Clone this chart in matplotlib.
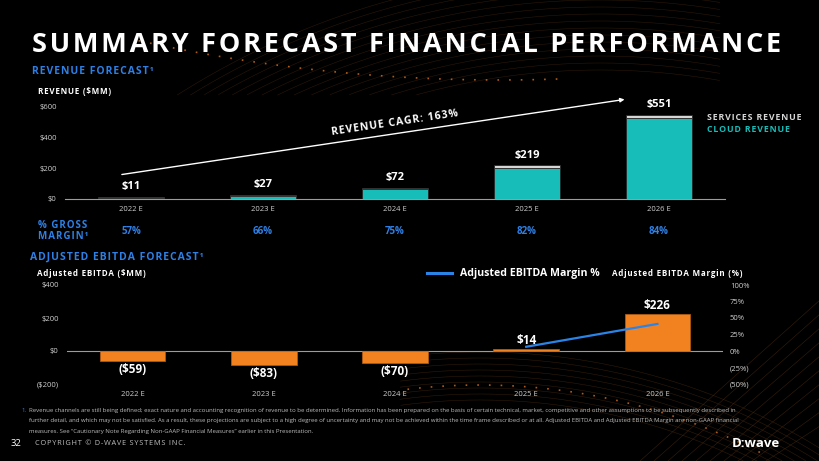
import numpy as np
import matplotlib
matplotlib.use("Agg")
import matplotlib.pyplot as plt
from matplotlib.lines import Line2D

plt.rcParams["font.family"] = ["Open Sans", "DejaVu Sans"]

# data
years = ["2022 E", "2023 E", "2024 E", "2025 E", "2026 E"]
cloud_revenue = [7, 21, 65, 201, 525]
services_revenue = [4, 6, 7, 18, 26]
revenue_labels = ["$11", "$27", "$72", "$219", "$551"]
gross_margin = ["57%", "66%", "75%", "82%", "84%"]
revenue_cagr = "163%"

ebitda = [-59, -83, -70, 14, 226]
ebitda_labels = ["($59)", "($83)", "($70)", "$14", "$226"]
margin_years = [3, 4]
ebitda_margin = [6.4, 41.0]

rev_ticks = [0, 200, 400, 600]
rev_tick_labels = ["$0", "$200", "$400", "$600"]
ebitda_ticks = [-200, 0, 200, 400]
ebitda_tick_labels = ["($200)", "$0", "$200", "$400"]
margin_ticks = [-50, -25, 0, 25, 50, 75, 100]
margin_tick_labels = ["(50%)", "(25%)", "0%", "25%", "50%", "75%", "100%"]

W, H = 820, 461
TEAL = "#17bdb9"
LIGHT = "#d6d6d6"
ORANGE = "#f28120"
BLUE = "#2f80e6"
LINE_BLUE = "#2a84e8"
AXIS = "#9c9c9c"
TICK = "#cfcfcf"


def spaced(s):
    # poor man's letter spacing
    return "\u200a".join(s)


def label(fig, x, y, s, **kw):
    fig.text(x / W, 1 - y / H, s, **kw)


fig = plt.figure(figsize=(W / 100, H / 100), dpi=100, facecolor="black")

# faint background swirl
bg = fig.add_axes([0, 0, 1, 1], zorder=-5)
bg.set_xlim(0, W)
bg.set_ylim(H, 0)
bg.axis("off")
bg.set_facecolor("black")
t = np.linspace(0, 2 * np.pi, 4000)
for r in np.arange(690, 790, 7):
    xs = 600 + r * np.cos(t)
    ys = 760 - r * np.sin(t)
    m = (ys < 95) & (xs > 0) & (xs < 720)
    bg.plot(np.where(m, xs, np.nan), ys, color="#6b3d16", lw=0.4, alpha=0.4)
xs = 500 + 1680 * np.cos(t)
ys = -1600 + 1680 * np.sin(t)
m = (xs > 130) & (xs < 560) & (ys > 0)
bg.plot(np.where(m, xs, np.nan), ys, color="#d9731f", lw=1.2, ls=(0, (1, 6)), alpha=0.8)
for r in np.arange(600, 650, 6):
    xs = 480 + r * np.cos(t)
    ys = 1000 - r * np.sin(t)
    m = (ys < 461) & (xs > 400) & (xs < 820)
    bg.plot(np.where(m, xs, np.nan), ys, color="#6b3d16", lw=0.4, alpha=0.45)
xs = 480 + 615 * np.cos(t)
ys = 1000 - 615 * np.sin(t)
m = (xs > 400) & (xs < 760) & (ys < 461)
bg.plot(np.where(m, xs, np.nan), ys, color="#d9731f", lw=1.2, ls=(0, (1, 6)), alpha=0.8)
for k in range(10):
    bg.plot([640 + 14 * k, 820], [461, 300 + 14 * k], color="#6b3d16", lw=0.4, alpha=0.5)

# titles
label(fig, 32, 45, spaced("SUMMARY FORECAST FINANCIAL PERFORMANCE"), color="white",
      fontsize=19.5, weight="bold", va="center", ha="left")
label(fig, 32, 72, spaced("REVENUE FORECAST¹"), color=BLUE, fontsize=7.5, weight="bold", va="center")
label(fig, 38, 91, spaced("REVENUE ($MM)"), color="white", fontsize=5.8, weight="bold", va="center")

# revenue chart
x = np.arange(len(years))
ax = fig.add_axes([65 / W, 1 - 199 / H, 660 / W, 92 / H])
ax.set_facecolor("none")
ax.bar(x, cloud_revenue, width=0.5, color=TEAL, edgecolor="#262626", linewidth=0.6, zorder=3)
ax.bar(x, services_revenue, bottom=cloud_revenue, width=0.5, color=LIGHT,
       edgecolor="#262626", linewidth=0.6, zorder=3)
ax.set_xlim(-0.5, 4.5)
ax.set_ylim(0, 600)
for s in ["top", "right", "left"]:
    ax.spines[s].set_visible(False)
ax.spines["bottom"].set_color(AXIS)
ax.spines["bottom"].set_linewidth(0.8)
ax.set_yticks(rev_ticks, rev_tick_labels)
ax.set_xticks(x, years)
ax.tick_params(axis="y", length=0, pad=6, labelsize=5.5, labelcolor=TICK)
ax.tick_params(axis="x", length=0, pad=5, labelsize=5.5, labelcolor=TICK)

totals = [c + s for c, s in zip(cloud_revenue, services_revenue)]
for i, (top, lab) in enumerate(zip(totals, revenue_labels)):
    ax.annotate(lab, (i, top), xytext=(0, 7.5), textcoords="offset points", ha="center",
                va="center", fontsize=8, weight="bold", color="white")
for i, gm in enumerate(gross_margin):
    ax.text(i, -0.348, gm, transform=ax.get_xaxis_transform(), ha="center", va="center",
            fontsize=7, weight="bold", color=BLUE)

ax.annotate("", xy=(3.76, 652), xytext=(-0.09, 157),
            arrowprops=dict(arrowstyle="-|>", color="white", lw=1.0, mutation_scale=6),
            annotation_clip=False)
ax.text(2.0, 492, spaced("REVENUE CAGR: " + revenue_cagr), rotation=8.5, rotation_mode="anchor",
        ha="center", va="center", fontsize=7.5, weight="bold", color="white")

label(fig, 707, 118, spaced("SERVICES REVENUE"), color=LIGHT, fontsize=6.3, weight="bold", va="center")
label(fig, 707, 129, spaced("CLOUD REVENUE"), color=TEAL, fontsize=6.3, weight="bold", va="center")
label(fig, 38, 225.5, spaced("% GROSS"), color=BLUE, fontsize=7, weight="bold", va="center")
label(fig, 38, 236.5, spaced("MARGIN¹"), color=BLUE, fontsize=7, weight="bold", va="center")

# EBITDA chart
label(fig, 30, 257, spaced("ADJUSTED EBITDA FORECAST¹"), color=BLUE, fontsize=7.5, weight="bold", va="center")
label(fig, 37, 273.5, spaced("Adjusted EBITDA ($MM)"), color="white", fontsize=5.8, weight="bold", va="center")
fig.add_artist(Line2D([427 / W, 452 / W], [1 - 273 / H] * 2, color=LINE_BLUE, lw=2.2,
                      transform=fig.transFigure))
label(fig, 460, 273, "Adjusted EBITDA Margin %", color="white", fontsize=7.6, weight="bold", va="center")
label(fig, 612, 273.5, spaced("Adjusted EBITDA Margin (%)"), color="white", fontsize=5.8,
      weight="bold", va="center")

ax2 = fig.add_axes([67 / W, 1 - 384 / H, 656 / W, 99 / H])
ax2.set_facecolor("none")
ax2.axhline(0, color=AXIS, lw=0.8, zorder=1)
ax2.bar(x, ebitda, width=0.5, color=ORANGE, edgecolor="#b85f14", linewidth=0.5, zorder=3)
ax2.set_xlim(-0.5, 4.5)
ax2.set_ylim(-200, 400)
ax2.set_yticks(ebitda_ticks, ebitda_tick_labels)
ax2.set_xticks(x, years)
ax2.tick_params(axis="y", length=0, pad=6, labelsize=5.5, labelcolor=TICK)
ax2.tick_params(axis="x", length=0, pad=5, labelsize=5.5, labelcolor=TICK)
for s in ax2.spines.values():
    s.set_visible(False)
for i, (v, lab) in enumerate(zip(ebitda, ebitda_labels)):
    off = 6 if v > 0 else -6.5
    ax2.annotate(lab, (i, v), xytext=(0, off), textcoords="offset points", ha="center",
                 va="center", fontsize=8.5, weight="bold", color="white")

ax3 = ax2.twinx()
ax3.set_ylim(-50, 100)
ax3.set_yticks(margin_ticks, margin_tick_labels)
ax3.tick_params(axis="y", length=0, pad=5, labelsize=5.5, labelcolor=TICK)
for s in ax3.spines.values():
    s.set_visible(False)
ax3.plot(margin_years, ebitda_margin, color=LINE_BLUE, lw=1.6, zorder=5)

# footnote and footer
notes = [
    "Revenue channels are still being defined; exact nature and accounting recognition of revenue to be determined. "
    "Information has been prepared on the basis of certain technical, market, competitive and other assumptions to be subsequently described in",
    "further detail, and which may not be satisfied. As a result, these projections are subject to a high degree of uncertainty "
    "and may not be achieved within the time frame described or at all. Adjusted EBITDA and Adjusted EBITDA Margin are non-GAAP financial",
    "measures. See \u201cCautionary Note Regarding Non-GAAP Financial Measures\u201d earlier in this Presentation.",
]
label(fig, 21, 410, "1.", color=BLUE, fontsize=4.3, va="center")
for k, line in enumerate(notes):
    label(fig, 29, 410 + 10.5 * k, line, color="#bdbdbd", fontsize=4.3, va="center")
label(fig, 11, 443, "32", color="white", fontsize=6.8, va="center")
label(fig, 35, 443, spaced("COPYRIGHT © D-WAVE SYSTEMS INC."), color="#bdbdbd", fontsize=5.3, va="center")
label(fig, 732, 443, "D:wave", color="white", fontsize=9.5, weight="bold", va="center")

fig.savefig("out.png", dpi=100, facecolor="black")
